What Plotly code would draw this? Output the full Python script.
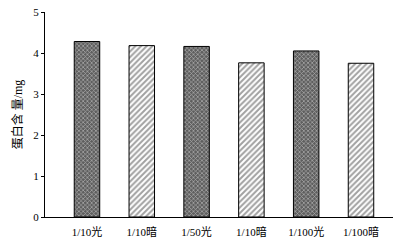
import plotly.graph_objects as go

categories = ["1/10光", "1/10暗", "1/50光", "1/10暗 ", "1/100光", "1/100暗"]
tick_labels = ["1/10光", "1/10暗", "1/50光", "1/10暗", "1/100光", "1/100暗"]
protein = [4.28, 4.18, 4.16, 3.76, 4.05, 3.75]
kinds = ["dark", "hatch", "dark", "hatch", "dark", "hatch"]

x_idx = list(range(len(categories)))
shapes = ["x" if k == "dark" else "/" for k in kinds]
bgs = ["#5e5e5e" if k == "dark" else "white" for k in kinds]
sizes = [3 if k == "dark" else 4 for k in kinds]
solid = [0.4 if k == "dark" else 0.5 for k in kinds]

fig = go.Figure(go.Bar(
    x=x_idx, y=protein, width=0.465,
    marker=dict(
        color=bgs,
        line=dict(color="black", width=1),
        pattern=dict(shape=shapes, fgcolor="black", bgcolor=bgs, size=sizes, solidity=solid, fillmode="overlay"),
    ),
    hoverinfo="skip",
))

font = dict(family="Liberation Serif, Times New Roman, Noto Sans CJK SC, serif", size=11, color="black")
fig.update_layout(
    width=398, height=241,
    margin=dict(l=45, r=5, t=12, b=24),
    plot_bgcolor="white", paper_bgcolor="white",
    font=font, showlegend=False,
    xaxis=dict(range=[-0.766, 5.584], tickvals=x_idx, ticktext=tick_labels,
               showline=True, linecolor="black", linewidth=1, ticks="", showgrid=False,
               zeroline=False, tickfont=font, ticklabelstandoff=5, automargin=False),
    yaxis=dict(range=[0, 5], tickvals=[0, 1, 2, 3, 4, 5], showline=True, linecolor="black",
               linewidth=1, ticks="outside", ticklen=3, tickcolor="black", showgrid=False,
               zeroline=False, tickfont=font, automargin=False,
               title=dict(text="蛋白含 量/mg", font=dict(family=font["family"], size=12, color="black"), standoff=8)),
)
fig.write_html("out.html", config={"displayModeBar": False, "staticPlot": True},
               post_script="document.body.style.margin='0';document.body.style.overflow='hidden';")
